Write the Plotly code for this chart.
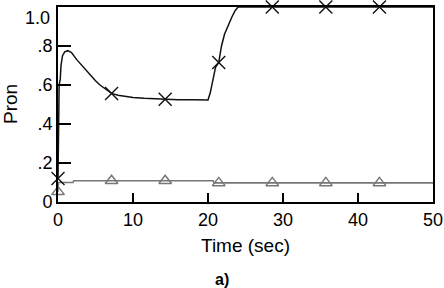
import plotly.graph_objects as go

# black curve (X markers)
t_black = [0, 0.05, 0.1, 0.15, 0.3, 0.4, 0.6, 0.9, 1.3, 1.8, 2.5, 3.3, 4.2, 5.0, 5.6, 6.5,
           7.14, 8.0, 9.0, 10.0, 11.5, 13.0, 14.29, 16.0, 18.0, 20.0, 20.3, 20.7, 21.0,
           21.43, 21.8, 22.2, 22.7, 23.2, 23.6, 24.0, 28.57, 35.71, 42.86, 50]
v_black = [0.12, 0.35, 0.52, 0.60, 0.63, 0.70, 0.75, 0.77, 0.776, 0.766, 0.73, 0.694, 0.655,
           0.622, 0.60, 0.575, 0.557, 0.547, 0.54, 0.536, 0.532, 0.529, 0.527, 0.525, 0.524,
           0.523, 0.56, 0.64, 0.69, 0.715, 0.80, 0.86, 0.91, 0.95, 0.98, 1.0, 1.0, 1.0, 1.0, 1.0]

# gray curve (triangle markers)
t_gray = [0, 0.05, 2.0, 2.1, 20.7, 20.8, 50]
v_gray = [0.052, 0.10, 0.10, 0.109, 0.109, 0.098, 0.098]

# marker positions
mark_t = [0, 7.14, 14.29, 21.43, 28.57, 35.71, 42.86]
black_mark = [0.12, 0.557, 0.527, 0.715, 1.0, 1.0, 1.0]
gray_mark = [0.052, 0.109, 0.109, 0.098, 0.098, 0.098, 0.098]

x_ticks = [0, 10, 20, 30, 40, 50]
y_ticks = [0, 0.2, 0.4, 0.6, 0.8]
y_ticktext = ["0", ".2", ".4", ".6", ".8"]

BLACK = "#111111"
GRAY = "#777777"

fig = go.Figure()
fig.add_trace(go.Scatter(x=t_gray, y=v_gray, mode="lines",
                         line=dict(color=GRAY, width=1.6), showlegend=False))
fig.add_trace(go.Scatter(x=mark_t, y=gray_mark, mode="markers", cliponaxis=False,
                         marker=dict(symbol="triangle-up-open", size=11, color=GRAY,
                                     line=dict(width=1.5, color=GRAY)),
                         showlegend=False))
fig.add_trace(go.Scatter(x=t_black, y=v_black, mode="lines",
                         line=dict(color=BLACK, width=1.5), showlegend=False))
fig.add_trace(go.Scatter(x=mark_t, y=black_mark, mode="markers", cliponaxis=False,
                         marker=dict(symbol="x-thin-open", size=13, color=BLACK,
                                     line=dict(width=1.4, color=BLACK)),
                         showlegend=False))

font = "Liberation Sans, Arial, sans-serif"
TICK = 18
LAB = 19
fig.update_layout(
    width=444, height=288,
    margin=dict(l=58, r=11, t=7, b=86),
    paper_bgcolor="white", plot_bgcolor="white",
    font=dict(family=font, size=TICK, color="black"),
    xaxis=dict(range=[0, 50], tickvals=x_ticks, ticks="inside", ticklen=9, tickwidth=1.6,
               tickcolor="black", showgrid=False, zeroline=False, showline=True,
               linecolor="black", linewidth=2, mirror=True, automargin=False,
               tickfont=dict(family=font, size=TICK, color="black")),
    yaxis=dict(range=[0, 1.0], tickvals=y_ticks, ticktext=y_ticktext, ticks="inside",
               ticklen=13, tickwidth=1.6, tickcolor="black", showgrid=False,
               zeroline=False, showline=True, linecolor="black", linewidth=2, mirror=True,
               automargin=False,
               tickfont=dict(family=font, size=TICK, color="black")),
    annotations=[
        dict(text="1.0", xref="paper", yref="paper", x=-0.016, y=0.944, xanchor="right",
             yanchor="middle", showarrow=False, font=dict(family=font, size=TICK, color="black")),
        dict(text="Pron", xref="paper", yref="paper", x=-0.1266, y=0.5, xanchor="center",
             yanchor="middle", textangle=-90, showarrow=False,
             font=dict(family=font, size=LAB, color="black")),
        dict(text="Time (sec)", xref="paper", yref="paper", x=0.5, y=-0.2256, xanchor="center",
             yanchor="middle", showarrow=False, font=dict(family=font, size=LAB, color="black")),
        dict(text="<b>a)</b>", xref="paper", yref="paper", x=0.437, y=-0.395, xanchor="center",
             yanchor="middle", showarrow=False, font=dict(family=font, size=16, color="black")),
    ],
)

fig.write_html("out.html", config={"displayModeBar": False},
               post_script="document.body.style.margin='0';")
